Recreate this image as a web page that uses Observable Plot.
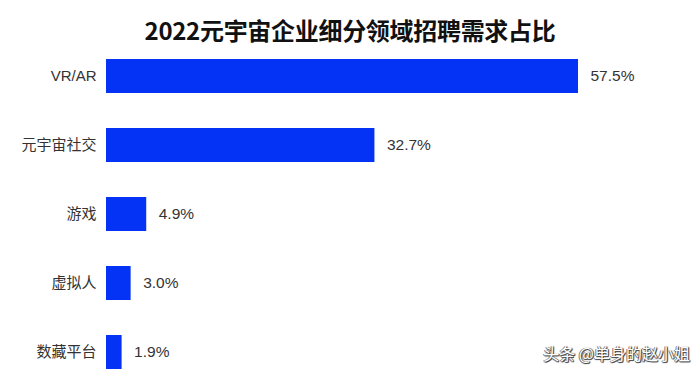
<!DOCTYPE html>
<html>
<head>
<meta charset="utf-8">
<script src="https://cdn.jsdelivr.net/npm/d3@7"></script>
<script src="https://cdn.jsdelivr.net/npm/@observablehq/plot@0.6"></script>
<style>
  html, body { margin: 0; padding: 0; background: #fff; }
  #wrap { position: relative; width: 700px; height: 386px; overflow: hidden; font-family: "Liberation Sans", "Noto Sans CJK SC", sans-serif; }
  #title { height: 48px; line-height: 59px; text-align: center; font-size: 24px; font-weight: bold; color: #111; font-family: "Noto Sans CJK SC", sans-serif; letter-spacing: -0.3px; }
  #mark { position: absolute; right: 10px; bottom: 21px; font-size: 16px; color: #fff; font-family: "Noto Sans CJK SC", sans-serif;
          text-shadow: 1px 1px 0 #555, -1px 0 0 #777, 0 1px 1px #444, 1px 0 1px #444; }
</style>
</head>
<body>
<div id="wrap">
  <div id="title">2022元宇宙企业细分领域招聘需求占比</div>
  <div id="chart"></div>
  <div id="mark">头条 @单身的赵小姐</div>
</div>
<script>
const categories = ["VR/AR", "元宇宙社交", "游戏", "虚拟人", "数藏平台"];
const values = [57.5, 32.7, 4.9, 3.0, 1.9];
const valueLabels = ["57.5%", "32.7%", "4.9%", "3.0%", "1.9%"];

const data = categories.map((c, i) => ({category: c, value: values[i], label: valueLabels[i]}));

const chart = Plot.plot({
  width: 700,
  height: 338,
  marginLeft: 106,
  marginRight: 122,
  marginTop: 10,
  marginBottom: 16,
  style: {fontFamily: '"Liberation Sans", "Noto Sans CJK SC", sans-serif', fontSize: "15px", color: "#333", background: "#fff"},
  x: {domain: [0, 57.5], axis: null},
  y: {domain: categories, paddingInner: 0.51, paddingOuter: 0, label: null},
  marks: [
    Plot.axisY({tickSize: 0, tickPadding: 10, fontSize: 15, fill: "#333", label: null}),
    Plot.barX(data, {x: "value", y: "category", fill: "#0433f6"}),
    Plot.text(data, {x: "value", y: "category", text: "label", dx: 12, textAnchor: "start", fontSize: 15.5, fill: "#333"})
  ]
});
document.getElementById("chart").appendChild(chart);
</script>
</body>
</html>
